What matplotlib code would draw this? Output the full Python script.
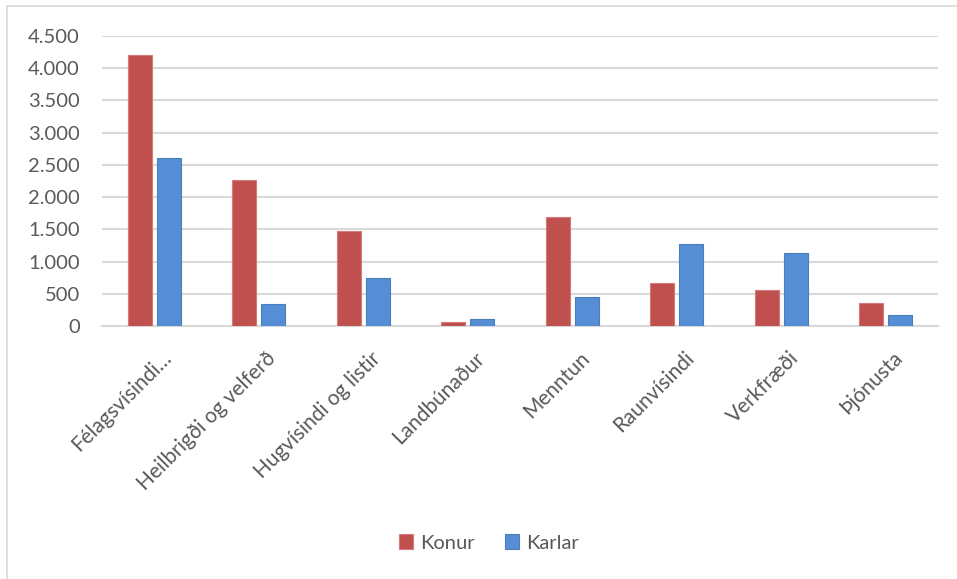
import matplotlib.pyplot as plt
import numpy as np
from matplotlib.ticker import FuncFormatter, MultipleLocator
from matplotlib.lines import Line2D
import matplotlib.transforms as mtransforms

plt.rcParams['font.family'] = ['Lato', 'DejaVu Sans']

# Data
categories = ['Félagsvísindi…', 'Heilbrigði og velferð', 'Hugvísindi og listir',
              'Landbúnaður', 'Menntun', 'Raunvísindi', 'Verkfræði', 'Þjónusta']
konur = [4200, 2270, 1480, 65, 1690, 665, 560, 357]
karlar = [2605, 345, 745, 108, 455, 1268, 1138, 171]

red = '#C0504D'
blue = '#558ED5'
text_col = '#595959'
grid_col = '#D9D9D9'
fs = 14.5

fig = plt.figure(figsize=(9.57, 5.79), dpi=100)
ax = fig.add_axes([102 / 957, 1 - 326 / 579, 836 / 957, 290 / 579])

x = np.arange(len(categories))
w = 0.23
gap = 0.025
ax.bar(x - w / 2 - gap, konur, w, color=red, edgecolor='#D47A78', linewidth=0.8,
       label='Konur', zorder=3)
ax.bar(x + w / 2 + gap, karlar, w, color=blue, edgecolor='#4A7EBB', linewidth=0.8,
       label='Karlar', zorder=3)

ax.set_xlim(-0.5, len(categories) - 0.5)
ax.set_ylim(0, 4500)
ax.yaxis.set_major_locator(MultipleLocator(500))
ax.yaxis.set_major_formatter(FuncFormatter(lambda v, p: f'{int(v):,}'.replace(',', '.')))
ax.grid(axis='y', color=grid_col, linewidth=1.5, zorder=0)
for s in ['top', 'right', 'left']:
    ax.spines[s].set_visible(False)
ax.spines['bottom'].set_color(grid_col)
ax.spines['bottom'].set_linewidth(1.5)
ax.tick_params(axis='both', length=0, labelsize=fs, labelcolor=text_col)
ax.tick_params(axis='y', pad=16)

ax.set_xticks(x)
ax.set_xticklabels(categories, rotation=45, ha='right', va='top', rotation_mode='anchor',
                   fontsize=15, color=text_col)
offset = mtransforms.ScaledTranslation(7 / 100, -17 / 100, fig.dpi_scale_trans)
for lab in ax.get_xticklabels():
    lab.set_transform(lab.get_transform() + offset)

leg = fig.legend(loc='center', bbox_to_anchor=(489 / 957, 1 - 543 / 579), ncol=2,
                 frameon=False, fontsize=fs, handlelength=0.7, handleheight=0.7,
                 handletextpad=0.35, columnspacing=1.5)
for t in leg.get_texts():
    t.set_color(text_col)

# chart area border (only top and left visible in the reference)
fig.add_artist(Line2D([7 / 957, 7 / 957], [0, 1 - 6 / 579], transform=fig.transFigure,
                      color=grid_col, linewidth=1.2))
fig.add_artist(Line2D([7 / 957, 1], [1 - 6 / 579, 1 - 6 / 579], transform=fig.transFigure,
                      color=grid_col, linewidth=1.2))

fig.savefig('out.png', dpi=100)
